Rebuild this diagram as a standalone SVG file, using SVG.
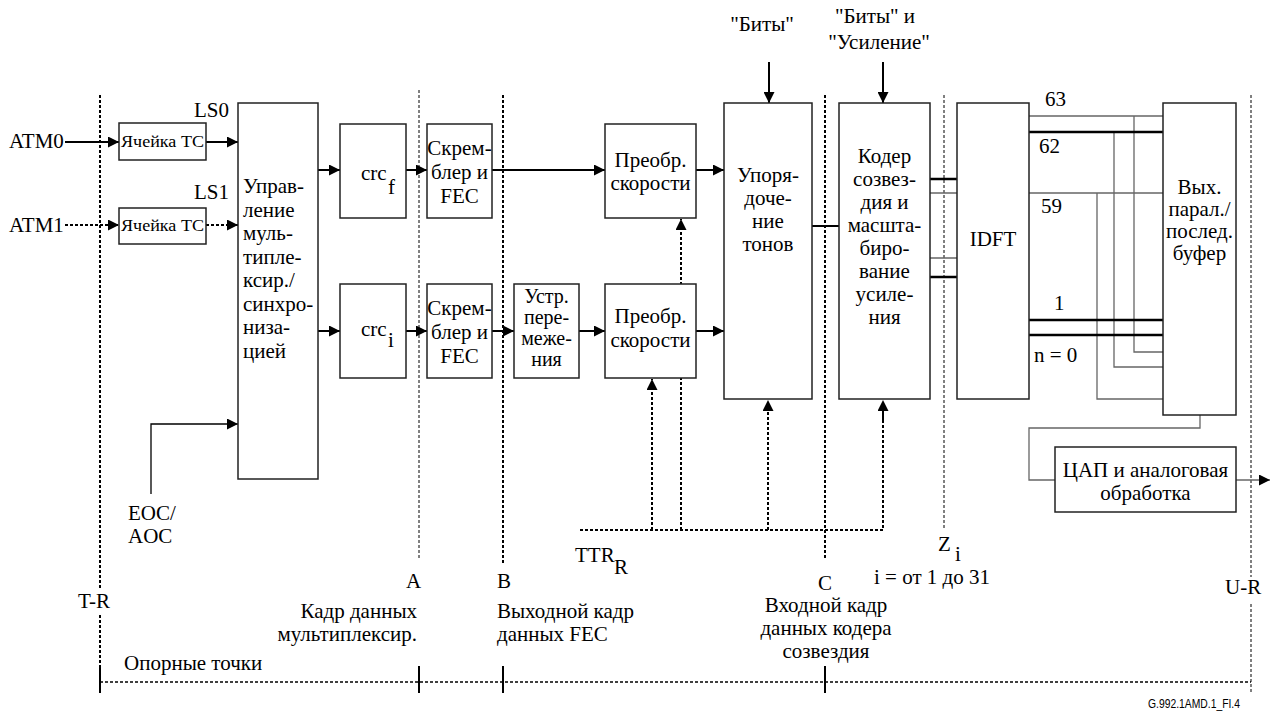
<svg xmlns="http://www.w3.org/2000/svg" width="1277" height="713" viewBox="0 0 1277 713" font-family="'Liberation Serif', 'Times New Roman', 'DejaVu Serif', serif">
<style>
text{font-size:21px;fill:#000}
.c{text-anchor:middle}
.e{text-anchor:end}
.sm{font-size:17.5px}
.box{fill:#fff;stroke:#222;stroke-width:1.5}
.a{stroke:#000;stroke-width:2;fill:none}
.ad{stroke:#000;stroke-width:2;fill:none;stroke-dasharray:3 2}
.thin{stroke:#666;stroke-width:1.3;fill:none}
.thick{stroke:#000;stroke-width:2.5;fill:none}
.vd{stroke:#000;stroke-width:2;stroke-dasharray:3 2;fill:none}
.vt{stroke:#000;stroke-width:1;stroke-dasharray:3 2;fill:none}
.tick{stroke:#000;stroke-width:2;fill:none}
</style>
<defs>
<marker id="ah" markerUnits="userSpaceOnUse" markerWidth="11" markerHeight="11" refX="10" refY="5" orient="auto" viewBox="0 0 10 10">
<path d="M0,0 L10,5 L0,10 z" fill="#000"/>
</marker>
</defs>

<g id="refLines">
<path class="vd" d="M100,95 V590 M100,615 V668"/>
<path class="vt" d="M419,90 V560"/>
<path class="vd" d="M503,95 V563"/>
<path class="vd" d="M825,95 V560"/>
<path class="vt" d="M944,95 V528"/>
<path class="vt" d="M1251,95 V577 M1251,604 V693"/>
<path class="vd" d="M100,682 H1251" style="stroke-width:1.6"/>
<path class="tick" d="M100,666 V693 M419,666 V693 M503,666 V693 M825,666 V693"/>
</g>

<g id="connectors">
<line class="a" x1="65" y1="142" x2="119" y2="142" marker-end="url(#ah)"/>
<line class="ad" x1="65" y1="225" x2="119" y2="225" marker-end="url(#ah)"/>
<line class="a" x1="206" y1="142" x2="238" y2="142" marker-end="url(#ah)"/>
<line class="ad" x1="206" y1="225" x2="238" y2="225" marker-end="url(#ah)"/>
<line class="a" x1="318" y1="170" x2="340" y2="170" marker-end="url(#ah)"/>
<line class="a" x1="318" y1="331" x2="340" y2="331" marker-end="url(#ah)"/>
<path class="thin" style="stroke:#000" d="M151,494 V424 H228"/>
<line class="a" x1="228" y1="424" x2="238" y2="424" marker-end="url(#ah)" style="stroke-width:1.3"/>
<line class="a" x1="406" y1="170" x2="427" y2="170" marker-end="url(#ah)"/>
<line class="a" x1="406" y1="331" x2="427" y2="331" marker-end="url(#ah)"/>
<line class="a" x1="492" y1="170" x2="605" y2="170" marker-end="url(#ah)"/>
<line class="a" x1="492" y1="331" x2="514" y2="331" marker-end="url(#ah)"/>
<line class="a" x1="579" y1="331" x2="605" y2="331" marker-end="url(#ah)"/>
<line class="a" x1="696" y1="170" x2="724" y2="170" marker-end="url(#ah)"/>
<line class="a" x1="696" y1="331" x2="724" y2="331" marker-end="url(#ah)"/>
<line class="a" x1="769" y1="62" x2="769" y2="103" marker-end="url(#ah)"/>
<line class="a" x1="883" y1="62" x2="883" y2="103" marker-end="url(#ah)"/>
<line class="a" x1="812" y1="226" x2="839" y2="226"/>
<path class="thick" d="M930,179 H957 M930,277 H957"/>
<path class="thin" d="M930,193 H957 M930,258 H957"/>
<path class="thin" d="M1029,116 H1163 M1134,116 V352 H1163"/>
<path class="thin" d="M1114,132 V367 H1163"/>
<path class="thin" d="M1029,193 H1163 M1097,193 V399 H1163"/>
<path class="thick" d="M1029,132 H1163 M1029,320 H1163 M1029,335 H1163"/>
<path class="thin" d="M1200,415 V428 H1029 V480 H1055"/>
<line class="thin" x1="1236" y1="480" x2="1270" y2="480" marker-end="url(#ah)"/>
<path class="ad" d="M580,530 H883 V411"/>
<line class="ad" x1="883" y1="420" x2="883" y2="400" marker-end="url(#ah)"/>
<line class="ad" x1="652" y1="530" x2="652" y2="379" marker-end="url(#ah)"/>
<line class="ad" x1="681" y1="530" x2="681" y2="219" marker-end="url(#ah)"/>
<line class="ad" x1="768" y1="530" x2="768" y2="400" marker-end="url(#ah)"/>
</g>

<g id="tc0"><rect class="box" x="119" y="123" width="87" height="37"/><text class="c sm" x="162.5" y="147" textLength="83" lengthAdjust="spacingAndGlyphs">Ячейка TC</text></g>
<g id="tc1"><rect class="box" x="119" y="208" width="87" height="36"/><text class="c sm" x="162.5" y="231" textLength="83" lengthAdjust="spacingAndGlyphs">Ячейка TC</text></g>
<g id="mux"><rect class="box" x="238" y="103" width="80" height="376"/>
<text x="243" y="193">Управ-</text><text x="243" y="216.5">ление</text><text x="243" y="240">муль-</text><text x="243" y="263.5">типле-</text><text x="243" y="287">ксир./</text><text x="243" y="310.5">синхро-</text><text x="243" y="334">низа-</text><text x="243" y="357.5">цией</text></g>
<g id="crcf"><rect class="box" x="340" y="124" width="66" height="94"/><text x="361" y="180">crc</text><text x="388" y="194">f</text></g>
<g id="crci"><rect class="box" x="340" y="284" width="66" height="94"/><text x="361" y="336">crc</text><text x="388" y="347">i</text></g>
<g id="scr1"><rect class="box" x="427" y="124" width="65" height="94"/><text class="c" x="459.5" y="155">Скрем-</text><text class="c" x="459.5" y="179">блер и</text><text class="c" x="459.5" y="203">FEC</text></g>
<g id="scr2"><rect class="box" x="427" y="284" width="65" height="94"/><text class="c" x="459.5" y="315">Скрем-</text><text class="c" x="459.5" y="339">блер и</text><text class="c" x="459.5" y="363">FEC</text></g>
<g id="intl"><rect class="box" x="514" y="284" width="65" height="94"/><text class="c" x="546.5" y="303" style="font-size:20px">Устр.</text><text class="c" x="546.5" y="324" style="font-size:20px">пере-</text><text class="c" x="546.5" y="345" style="font-size:20px">меже-</text><text class="c" x="546.5" y="366" style="font-size:20px">ния</text></g>
<g id="rc1"><rect class="box" x="605" y="124" width="91" height="94"/><text class="c" x="650.5" y="167">Преобр.</text><text class="c" x="650.5" y="190">скорости</text></g>
<g id="rc2"><rect class="box" x="605" y="284" width="91" height="94"/><text class="c" x="650.5" y="323">Преобр.</text><text class="c" x="650.5" y="347">скорости</text></g>
<g id="tone"><rect class="box" x="724" y="103" width="88" height="296"/><text class="c" x="768" y="182">Упоря-</text><text class="c" x="768" y="205">доче-</text><text class="c" x="768" y="228">ние</text><text class="c" x="768" y="251">тонов</text></g>
<g id="enc"><rect class="box" x="839" y="103" width="91" height="296"/><text class="c" x="884.5" y="163">Кодер</text><text class="c" x="884.5" y="186">созвез-</text><text class="c" x="884.5" y="209">дия и</text><text class="c" x="884.5" y="232">масшта-</text><text class="c" x="884.5" y="255">биро-</text><text class="c" x="884.5" y="278">вание</text><text class="c" x="884.5" y="301">усиле-</text><text class="c" x="884.5" y="324">ния</text></g>
<g id="idft"><rect class="box" x="957" y="103" width="72" height="296"/><text class="c" x="993" y="246">IDFT</text></g>
<g id="buf"><rect class="box" x="1163" y="103" width="73" height="312"/><text class="c" x="1199.5" y="194">Вых.</text><text class="c" x="1199.5" y="216">парал./</text><text class="c" x="1199.5" y="238">послед.</text><text class="c" x="1199.5" y="260">буфер</text></g>
<g id="dac"><rect class="box" x="1055" y="447" width="181" height="65"/><text class="c" x="1145.5" y="477">ЦАП и аналоговая</text><text class="c" x="1145.5" y="500">обработка</text></g>

<g id="labels">
<text x="9" y="148">ATM0</text>
<text x="9" y="232">ATM1</text>
<text class="e" x="229" y="117">LS0</text>
<text class="e" x="229" y="199">LS1</text>
<text x="128" y="520">EOC/</text>
<text x="128" y="543">AOC</text>
<text class="c" x="762" y="31">"Биты"</text>
<text class="c" x="875" y="23">"Биты" и</text>
<text class="c" x="879" y="49">"Усиление"</text>
<text x="1045" y="106">63</text>
<text x="1039" y="153">62</text>
<text x="1041" y="213">59</text>
<text x="1054" y="310">1</text>
<text x="1034" y="362">n = 0</text>
<text x="575" y="562">TTR</text><text x="614" y="574">R</text>
<text x="938" y="551">Z</text><text x="955" y="561">i</text>
<text class="c" x="932" y="584">i = от 1 до 31</text>
<text x="78" y="608">T-R</text>
<text x="406" y="588">A</text>
<text x="497" y="588">B</text>
<text x="818" y="590">C</text>
<text x="1225" y="594">U-R</text>
<text class="e" x="417" y="618">Кадр данных</text>
<text class="e" x="417" y="641">мультиплексир.</text>
<text x="497" y="618">Выходной кадр</text>
<text x="497" y="641">данных FEC</text>
<text class="c" x="826" y="612">Входной кадр</text>
<text class="c" x="826" y="635">данных кодера</text>
<text class="c" x="826" y="658">созвездия</text>
<text x="124" y="670">Опорные точки</text>
<text x="1148" y="708" font-family="'Liberation Sans', Arial, sans-serif" style="font-size:12.5px" textLength="92" lengthAdjust="spacingAndGlyphs">G.992.1AMD.1_FI.4</text>
</g>
</svg>
